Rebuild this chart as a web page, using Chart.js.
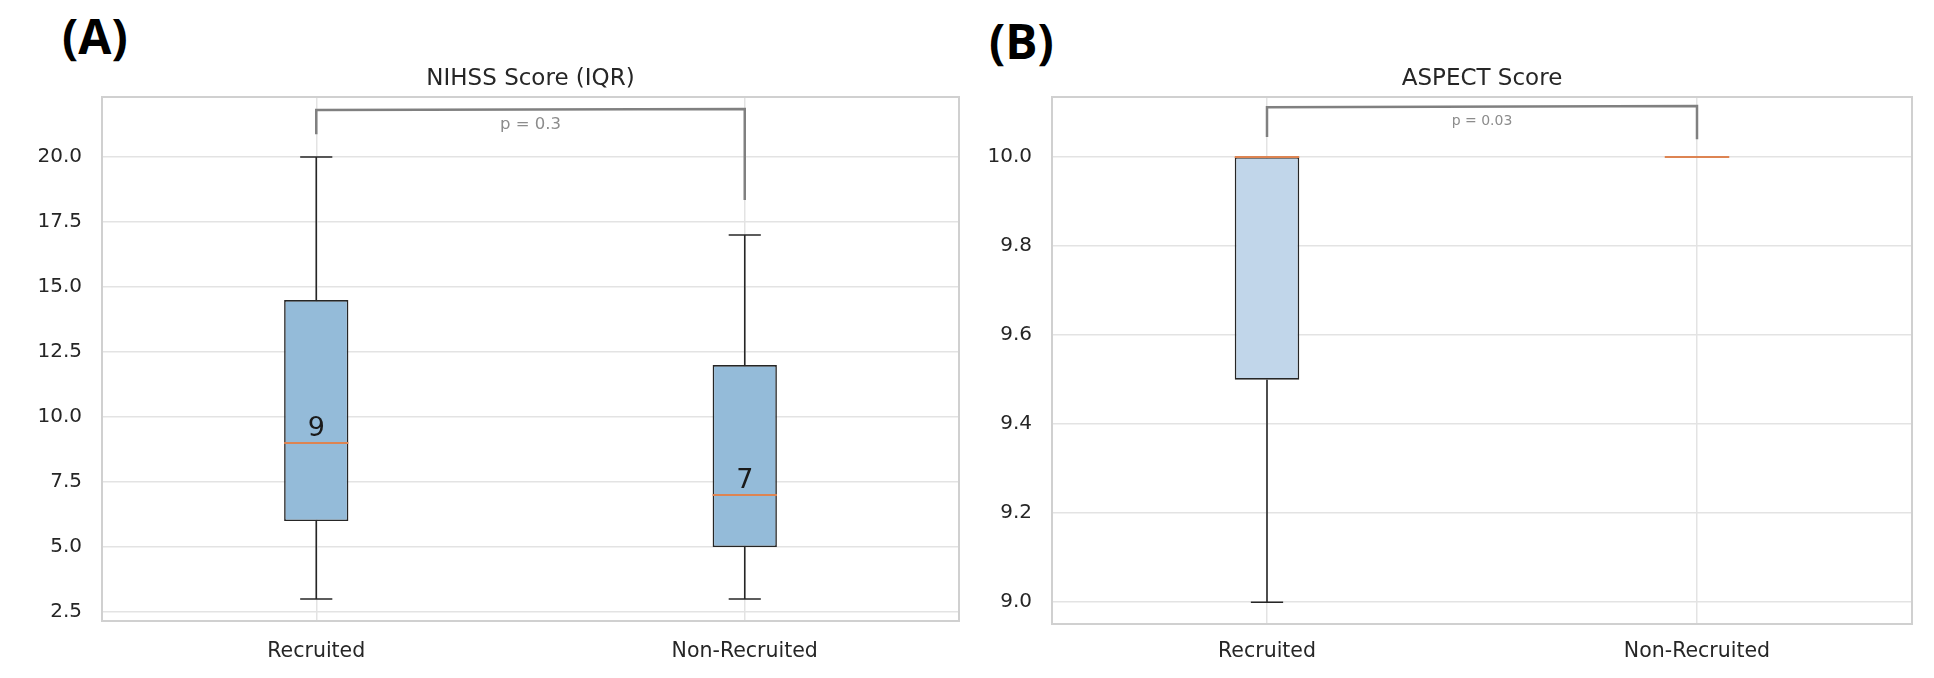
<!DOCTYPE html>
<html lang="en">
<head>
    <meta charset="UTF-8">
    <title>NIHSS and ASPECT boxplots</title>
    <script src="https://cdn.jsdelivr.net/npm/chart.js@4.4.1/dist/chart.umd.min.js"></script>
    <style>
        body {
            margin: 0;
            background: #ffffff;
            width: 1934px;
            height: 678px;
            overflow: hidden;
            position: relative;
        }
        canvas {
            position: absolute;
            top: 0;
        }
        .panel-tag {
            position: absolute;
            font-family: "Open Sans", sans-serif;
            font-weight: 700;
            font-size: 48px;
            line-height: 1;
            color: #000;
        }
    </style>
</head>
<body>
    <div class="panel-tag" style="left:62px; top:12px;">(A)</div>
    <div class="panel-tag" style="left:989px; top:17px;">(B)</div>
    <canvas id="chartA" width="980" height="678" style="left:0px;"></canvas>
    <canvas id="chartB" width="954" height="678" style="left:980px;"></canvas>

    <script>
        const categories = ['Recruited', 'Non-Recruited'];

        // NIHSS score, panel A
        const nihssLow = [3, 3];
        const nihssQ1 = [6, 5];
        const nihssMedian = [9, 7];
        const nihssQ3 = [14.5, 12];
        const nihssHigh = [20, 17];
        const nihssTicks = [2.5, 5, 7.5, 10, 12.5, 15, 17.5, 20];
        const nihssRange = [2.154, 22.31];
        // left foot, left top, right top, right foot
        const nihssBracket = [20.88, 21.81, 21.85, 18.35];
        const nihssPText = 'p = 0.3';
        const nihssPY = 21.25;

        // ASPECT score, panel B
        const aspectLow = [9, 10];
        const aspectQ1 = [9.5, 10];
        const aspectMedian = [10, 10];
        const aspectQ3 = [10, 10];
        const aspectHigh = [10, 10];
        const aspectTicks = [9.0, 9.2, 9.4, 9.6, 9.8, 10.0];
        const aspectRange = [8.951, 10.135];
        const aspectBracket = [10.045, 10.112, 10.115, 10.040];
        const aspectPText = 'p = 0.03';
        const aspectPY = 10.081;

        const FONT = "'DejaVu Sans', sans-serif";

        const boxExtras = {
            id: 'boxExtras',
            beforeDatasetsDraw(chart) {
                const a = chart.chartArea;
                const ctx = chart.ctx;
                ctx.save();
                ctx.strokeStyle = '#d0d0d0';
                ctx.lineWidth = 2;
                ctx.strokeRect(a.left, a.top, a.width, a.height);
                ctx.restore();
            },
            afterDatasetsDraw(chart, args, o) {
                const ctx = chart.ctx;
                const x = chart.scales.x;
                const y = chart.scales.y;
                const unit = x.getPixelForValue(1) - x.getPixelForValue(0);
                const line = (x1, y1, x2, y2) => {
                    ctx.beginPath();
                    ctx.moveTo(x1, y1);
                    ctx.lineTo(x2, y2);
                    ctx.stroke();
                };
                ctx.save();
                for (let i = 0; i < o.median.length; i++) {
                    const cx = x.getPixelForValue(i);
                    ctx.strokeStyle = '#262626';
                    ctx.lineWidth = 1.6;
                    line(cx, y.getPixelForValue(o.q1[i]), cx, y.getPixelForValue(o.low[i]));
                    line(cx, y.getPixelForValue(o.q3[i]), cx, y.getPixelForValue(o.high[i]));
                    const cap = 0.0375 * unit;
                    line(cx - cap, y.getPixelForValue(o.low[i]), cx + cap, y.getPixelForValue(o.low[i]));
                    line(cx - cap, y.getPixelForValue(o.high[i]), cx + cap, y.getPixelForValue(o.high[i]));

                    const half = 0.075 * unit;
                    const my = y.getPixelForValue(o.median[i]);
                    ctx.strokeStyle = '#dd8452';
                    ctx.lineWidth = 2;
                    line(cx - half, my, cx + half, my);

                    if (o.showMedianText) {
                        ctx.fillStyle = '#1a1a1a';
                        ctx.font = '27px ' + FONT;
                        ctx.textAlign = 'center';
                        ctx.textBaseline = 'alphabetic';
                        ctx.fillText(String(o.median[i]), cx, my - 7);
                    }
                }

                // significance bracket
                const b = o.bracket;
                const xl = x.getPixelForValue(0);
                const xr = x.getPixelForValue(1);
                ctx.strokeStyle = '#808080';
                ctx.lineWidth = 2.5;
                ctx.beginPath();
                ctx.moveTo(xl, y.getPixelForValue(b[0]));
                ctx.lineTo(xl, y.getPixelForValue(b[1]));
                ctx.lineTo(xr, y.getPixelForValue(b[2]));
                ctx.lineTo(xr, y.getPixelForValue(b[3]));
                ctx.stroke();

                ctx.fillStyle = '#8c8c8c';
                ctx.font = o.pSize + 'px ' + FONT;
                ctx.textAlign = 'center';
                ctx.textBaseline = 'middle';
                ctx.fillText(o.pText, (xl + xr) / 2, y.getPixelForValue(o.pY));
                ctx.restore();
            }
        };

        function makeChart(id, cfg) {
            const boxes = cfg.q1.map((v, i) => [v, cfg.q3[i]]);
            return new Chart(document.getElementById(id), {
                type: 'bar',
                data: {
                    labels: categories,
                    datasets: [{
                        data: boxes,
                        backgroundColor: cfg.fill,
                        borderColor: '#262626',
                        borderWidth: 1.6,
                        borderSkipped: false,
                        barPercentage: 0.15,
                        categoryPercentage: 1.0
                    }]
                },
                options: {
                    responsive: false,
                    animation: false,
                    devicePixelRatio: 1,
                    layout: { padding: { left: 0, right: cfg.padRight, top: 0, bottom: 0 } },
                    plugins: {
                        legend: { display: false },
                        tooltip: { enabled: false },
                        title: {
                            display: true,
                            fullSize: false,
                            text: cfg.title,
                            color: '#262626',
                            font: { family: FONT, size: 23, weight: 'normal' },
                            padding: { top: 65, bottom: 4.4 }
                        },
                        boxExtras: {
                            low: cfg.low, q1: cfg.q1, median: cfg.median, q3: cfg.q3, high: cfg.high,
                            bracket: cfg.bracket, pText: cfg.pText, pY: cfg.pY, pSize: cfg.pSize,
                            showMedianText: cfg.showMedianText
                        }
                    },
                    scales: {
                        x: {
                            type: 'category',
                            offset: true,
                            grid: { offset: false, color: '#e3e3e3', lineWidth: 1.5, drawTicks: false },
                            border: { display: false },
                            ticks: { color: '#262626', font: { family: FONT, size: 20.5 }, padding: cfg.xPad },
                            afterFit: (s) => { s.height = 678 - cfg.bottom; }
                        },
                        y: {
                            min: cfg.range[0],
                            max: cfg.range[1],
                            grid: { color: '#e3e3e3', lineWidth: 1.5, drawTicks: false },
                            border: { display: false },
                            ticks: {
                                color: '#262626',
                                font: { family: FONT, size: 20 },
                                padding: 20,
                                callback: (v) => Number(v).toFixed(1)
                            },
                            afterBuildTicks: (s) => { s.ticks = cfg.ticks.map(v => ({ value: v })); },
                            afterFit: (s) => { s.width = cfg.left; }
                        }
                    }
                },
                plugins: [boxExtras]
            });
        }

        makeChart('chartA', {
            title: 'NIHSS Score (IQR)',
            fill: '#94bbd9',
            low: nihssLow, q1: nihssQ1, median: nihssMedian, q3: nihssQ3, high: nihssHigh,
            ticks: nihssTicks, range: nihssRange,
            bracket: nihssBracket, pText: nihssPText, pY: nihssPY, pSize: 16.5,
            showMedianText: true,
            left: 102, padRight: 21, bottom: 621, xPad: 18
        });

        makeChart('chartB', {
            title: 'ASPECT Score',
            fill: '#c1d6ea',
            low: aspectLow, q1: aspectQ1, median: aspectMedian, q3: aspectQ3, high: aspectHigh,
            ticks: aspectTicks, range: aspectRange,
            bracket: aspectBracket, pText: aspectPText, pY: aspectPY, pSize: 14,
            showMedianText: false,
            left: 72, padRight: 22, bottom: 624, xPad: 15
        });
    </script>
</body>
</html>
